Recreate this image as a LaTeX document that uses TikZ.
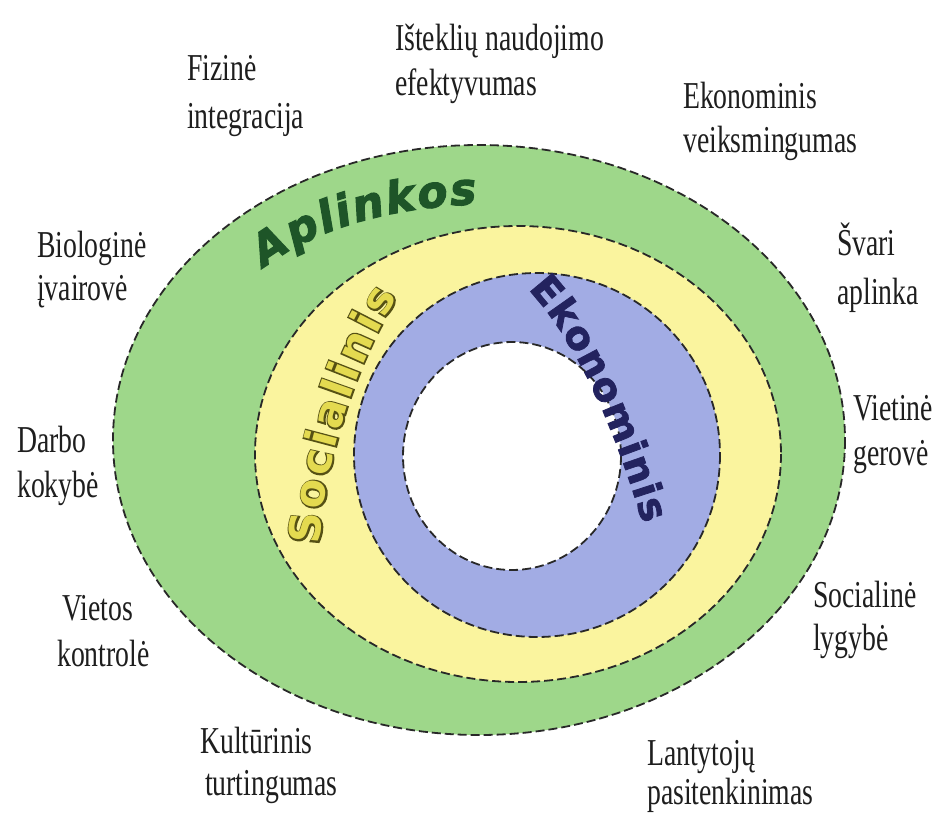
\documentclass[tikz,border=0pt]{standalone}
\usepackage{fontspec}
\setmainfont{Liberation Serif}
\newfontfamily\aplfont{DejaVu Sans}[FakeBold=2.5]
\newfontfamily\ekofont{DejaVu Sans}[FakeBold=2]
\newfontfamily\socoutfont{DejaVu Sans}[FakeBold=7]
\newfontfamily\socfillfont{DejaVu Sans}
\usetikzlibrary{decorations.text}
\definecolor{greenfill}{RGB}{158,215,138}
\definecolor{yellowfill}{RGB}{250,244,158}
\definecolor{bluefill}{RGB}{162,172,228}
\definecolor{ringline}{RGB}{40,40,40}
\definecolor{apltext}{RGB}{30,85,40}
\definecolor{ekotext}{RGB}{35,35,95}
\definecolor{socfill}{RGB}{228,218,80}
\definecolor{socout}{RGB}{85,80,20}
\definecolor{lbltext}{RGB}{30,30,30}
\newcommand\aplfmt{\aplfont\bfseries\itshape\fontsize{44}{46}\selectfont\color{apltext}}
\newcommand\ekofmt{\ekofont\bfseries\fontsize{39}{41}\selectfont\color{ekotext}}
\newcommand\socoutfmt{\socoutfont\bfseries\fontsize{43}{45}\selectfont\color{socout}}
\newcommand\socfillfmt{\socfillfont\bfseries\fontsize{43}{45}\selectfont\color{socfill}}
\tikzset{
  ring/.style={draw=ringline, line width=1.8pt, dash pattern=on 9pt off 4pt},
  lbl/.style={anchor=base west, inner sep=0pt, font=\fontsize{38}{44}\selectfont, text=lbltext, xscale=0.73},
}
\begin{document}
\begin{tikzpicture}[x=1pt,y=-1pt]
\useasboundingbox (0,0) rectangle (938,814);
\fill[white] (0,0) rectangle (938,814);
% rings
\path[ring, fill=greenfill] (479,440) ellipse [x radius=366, y radius=295];
\path[ring, fill=yellowfill] (518,454) ellipse [x radius=263, y radius=228];
\path[ring, fill=bluefill] (537,455) ellipse [x radius=183, y radius=182];
\path[ring, fill=white] (512,456) ellipse [x radius=109, y radius=114];
% ring titles
\path[decorate, decoration={text along path, text align={fit to path}, text={|\aplfmt|Aplinkos}}]
  (264,268) .. controls (322,223) and (405,207) .. (477,204);
\path[decorate, decoration={text along path, text align={fit to path}, text={|\ekofmt|Ekonominis}}]
  (528,289) .. controls (584,350) and (619,444) .. (643,524);
\path[decorate, decoration={text along path, text align={fit to path}, text={|\socoutfmt|Socialinis}}]
  (320,545) .. controls (324,465) and (355,364) .. (398,297);
\path[decorate, decoration={text along path, text align={fit to path}, text={|\socfillfmt|Socialinis}}]
  (320,545) .. controls (324,465) and (355,364) .. (398,297);
% labels
\node[lbl] (fiz1) at (187,80) {Fizinė};
\node[lbl] (fiz2) at (187,128) {integracija};
\node[lbl] (ist1) at (395,50) {Išteklių naudojimo};
\node[lbl] (ist2) at (395,95) {efektyvumas};
\node[lbl] (eko1) at (683,108) {Ekonominis};
\node[lbl] (eko2) at (683,152) {veiksmingumas};
\node[lbl] (bio1) at (37,257) {Biologinė};
\node[lbl] (bio2) at (37,300) {įvairovė};
\node[lbl] (sva1) at (837,255) {Švari};
\node[lbl] (sva2) at (837,304) {aplinka};
\node[lbl] (vie1) at (853,420) {Vietinė};
\node[lbl] (vie2) at (853,465) {gerovė};
\node[lbl] (dar1) at (17,452) {Darbo};
\node[lbl] (dar2) at (17,497) {kokybė};
\node[lbl] (soc1) at (813,607) {Socialinė};
\node[lbl] (soc2) at (813,650) {lygybė};
\node[lbl] (vik1) at (62,620) {Vietos};
\node[lbl] (vik2) at (57,666) {kontrolė};
\node[lbl] (kul1) at (200,753) {Kultūrinis};
\node[lbl] (kul2) at (205,795) {turtingumas};
\node[lbl] (lan1) at (647,765) {Lantytojų};
\node[lbl] (lan2) at (647,804) {pasitenkinimas};
\end{tikzpicture}
\end{document}
